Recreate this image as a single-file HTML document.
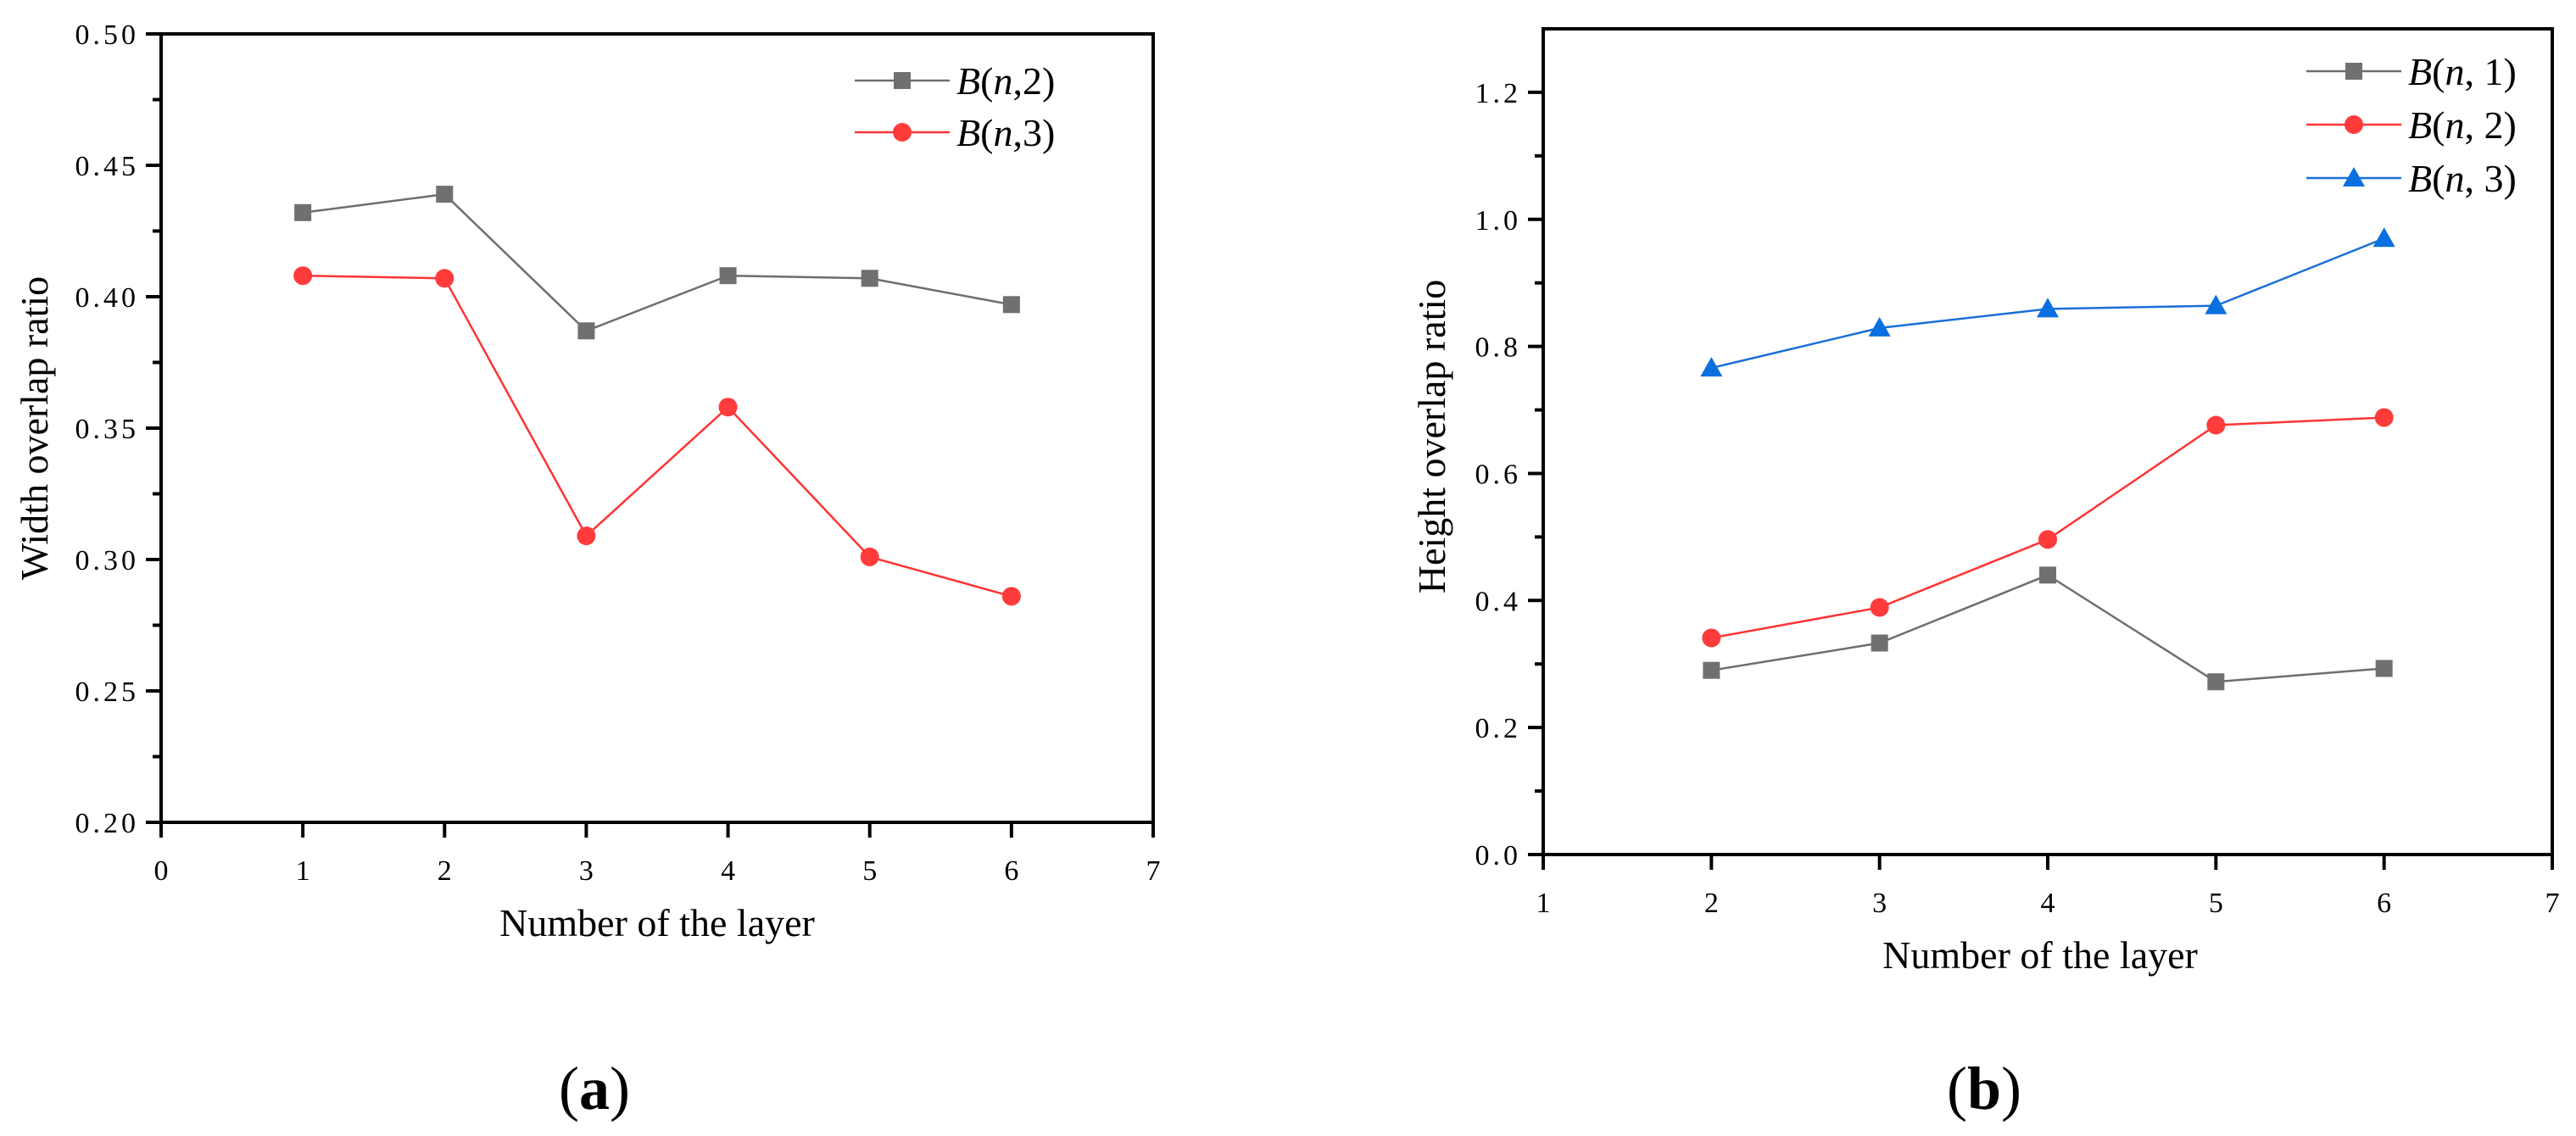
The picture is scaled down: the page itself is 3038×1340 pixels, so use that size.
<!DOCTYPE html>
<html><head><meta charset="utf-8"><style>
html,body{margin:0;padding:0;background:#fff;}
svg{display:block;font-family:"Liberation Serif","Noto Serif CJK SC",serif;}
</style></head><body>
<svg id="fig" width="3038" height="1340" viewBox="0 0 3038 1340" xmlns="http://www.w3.org/2000/svg"></svg>
<script>
const xA = [1,2,3,4,5,6];
const aB2 = [0.432,0.439,0.387,0.408,0.407,0.397];
const aB3 = [0.408,0.407,0.309,0.358,0.301,0.286];
const aYTicks = ["0.20","0.25","0.30","0.35","0.40","0.45","0.50"];
const aXTicks = ["0","1","2","3","4","5","6","7"];
const xB = [2,3,4,5,6];
const bB1 = [0.290,0.333,0.440,0.272,0.293];
const bB2 = [0.341,0.389,0.496,0.676,0.688];
const bB3 = [0.766,0.829,0.859,0.864,0.970];
const bYTicks = ["0.0","0.2","0.4","0.6","0.8","1.0","1.2"];
const bXTicks = ["1","2","3","4","5","6","7"];

const NS="http://www.w3.org/2000/svg";
const svg=document.getElementById('fig');
function mk(tag,attrs,parent,text){const e=document.createElementNS(NS,tag);for(const k in attrs)e.setAttribute(k,attrs[k]);if(text!==undefined)e.textContent=text;(parent||svg).appendChild(e);return e;}

function panel(cfg){
  const g=mk('g',{});
  
  
  const sx=v=>cfg.L+(v-cfg.x0)/(cfg.x1-cfg.x0)*(cfg.R-cfg.L);
  const sy=v=>cfg.B-(v-cfg.y0)/(cfg.y1-cfg.y0)*(cfg.B-cfg.T);
  cfg.yTicks.forEach(t=>{
    const v=parseFloat(t),y=sy(v);
    const tk=mk('line',{x1:cfg.L-18,x2:cfg.L,y1:y,y2:y,stroke:'#000','stroke-width':4},g);
    
    
    const lb=mk('text',{x:cfg.L-26,y:y+12,'text-anchor':'end','font-size':34,'letter-spacing':'4'},g,t);
    
    
  });
  for(let v=cfg.y0+cfg.minor;v<cfg.y1-1e-9;v+=2*cfg.minor){
    const y=sy(v);
    const m=mk('line',{x1:cfg.L-10,x2:cfg.L,y1:y,y2:y,stroke:'#000','stroke-width':4},g);
    
    
  }
  cfg.xTicks.forEach(t=>{
    const x=sx(parseFloat(t));
    const tk=mk('line',{x1:x,x2:x,y1:cfg.B,y2:cfg.B+18,stroke:'#000','stroke-width':4},g);
    
    
    const lb=mk('text',{x:x,y:cfg.xLabY,'text-anchor':'middle','font-size':34},g,t);
    
    
  });
  const fr=mk('rect',{x:cfg.L,y:cfg.T,width:cfg.R-cfg.L,height:cfg.B-cfg.T,fill:'none',stroke:'#000','stroke-width':4},g);
  
  
  const xt=mk('text',{x:cfg.xtX,y:cfg.xtY,'text-anchor':'middle','font-size':46},g,'Number of the layer');
  
  
  const yt=mk('text',{x:0,y:0,'text-anchor':'middle','font-size':46,transform:`translate(${cfg.ytX},${cfg.ytY}) rotate(-90)`},g,cfg.yTitle);
  
  
  cfg.series.forEach((s,i)=>{
    const pts=s.vals.map((v,j)=>sx(cfg.xs[j])+','+sy(v)).join(' ');
    const pl=mk('polyline',{points:pts,fill:'none',stroke:s.color,'stroke-width':2.5},g);
    
    
    s.vals.forEach((v,j)=>{
      const mkr=marker(g,s.shape,sx(cfg.xs[j]),sy(v),s.fill);
      
      
    });
    const ly=cfg.legY+i*cfg.legDy;
    const ll=mk('line',{x1:cfg.legX,x2:cfg.legX+112,y1:ly,y2:ly,stroke:s.color,'stroke-width':2.5},g);
    
    
    const lm=marker(g,s.shape,cfg.legX+56,ly,s.fill);
    
    
    const tx=mk('text',{x:cfg.legX+120,y:ly+16,'font-size':46},g);
    
    
    mk('tspan',{'font-style':'italic'},tx,'B');
    mk('tspan',{},tx,'(');
    mk('tspan',{'font-style':'italic'},tx,'n');
    mk('tspan',{},tx,s.lab);
  });
}
function marker(g,shape,x,y,fill){
  if(shape==='sq')return mk('rect',{x:x-10,y:y-10,width:20,height:20,fill:fill},g);
  if(shape==='ci')return mk('circle',{cx:x,cy:y,r:11,fill:fill},g);
  return mk('polygon',{points:`${x},${y-13} ${x-13},${y+10} ${x+13},${y+10}`,fill:fill},g);
}
panel({name:'chart-a',L:190,R:1360,T:40,B:970,x0:0,x1:7,y0:0.2,y1:0.5,minor:0.025,
  xs:xA,yTicks:aYTicks,xTicks:aXTicks,xLabY:1038,xtX:775,xtY:1104,ytX:56,ytY:505,
  yTitle:'Width overlap ratio',legX:1008,legY:95,legDy:61,
  series:[{id:'b-n2',vals:aB2,color:'#6e6e6e',fill:'#707070',shape:'sq',lab:',2)'},
          {id:'b-n3',vals:aB3,color:'#ff3333',fill:'#ff3b3b',shape:'ci',lab:',3)'}]});
panel({name:'chart-b',L:1820,R:3010,T:34,B:1008,x0:1,x1:7,y0:0,y1:1.3,minor:0.1,
  xs:xB,yTicks:bYTicks,xTicks:bXTicks,xLabY:1076,xtX:2406,xtY:1142,ytX:1704,ytY:515,
  yTitle:'Height overlap ratio',legX:2720,legY:84,legDy:63,
  series:[{id:'b-n1',vals:bB1,color:'#6e6e6e',fill:'#707070',shape:'sq',lab:', 1)'},
          {id:'b-n2',vals:bB2,color:'#ff3333',fill:'#ff3b3b',shape:'ci',lab:', 2)'},
          {id:'b-n3',vals:bB3,color:'#1a6fd8',fill:'#0b6fe0',shape:'tri',lab:', 3)'}]});
const ca=mk('text',{x:701,y:1308,'text-anchor':'middle','font-size':72},svg);


mk('tspan',{},ca,'(');mk('tspan',{'font-weight':'bold'},ca,'a');mk('tspan',{},ca,')');
const cb=mk('text',{x:2340,y:1308,'text-anchor':'middle','font-size':72},svg);


mk('tspan',{},cb,'(');mk('tspan',{'font-weight':'bold'},cb,'b');mk('tspan',{},cb,')');
</script>
</body></html>
